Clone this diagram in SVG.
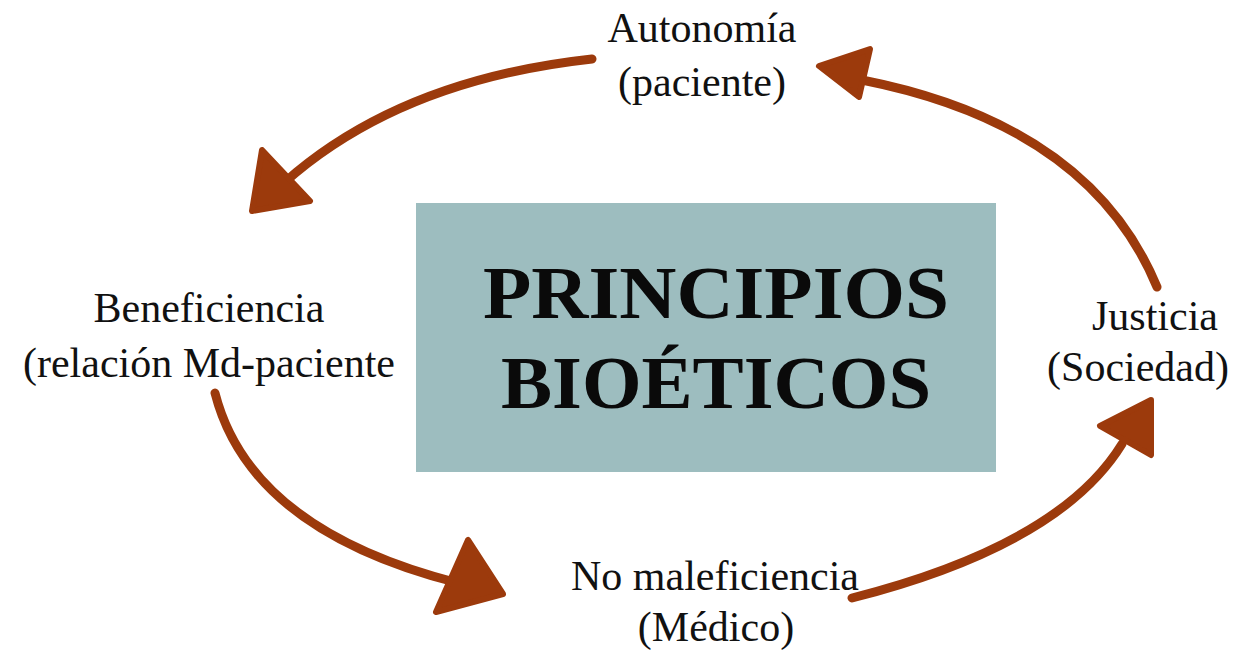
<svg xmlns="http://www.w3.org/2000/svg" width="1256" height="655" viewBox="0 0 1256 655">
<style>
.lbl{font-family:"Liberation Serif","DejaVu Serif",serif;font-size:42px;fill:#111;text-anchor:middle}
.title{font-family:"Liberation Serif","DejaVu Serif",serif;font-size:73px;font-weight:bold;fill:#0a0a0a;text-anchor:middle}
.ln{fill:none;stroke:#9c3a0c;stroke-width:9;stroke-linecap:round}
.hd{fill:#9c3a0c;stroke:#9c3a0c;stroke-width:6;stroke-linejoin:round}
</style>
<rect width="1256" height="655" fill="#fff"/>
<g id="center">
<rect x="416" y="203" width="580" height="269" fill="#9dbdbf"/>
<text class="title" x="716" y="318" textLength="466" lengthAdjust="spacingAndGlyphs">PRINCIPIOS</text>
<text class="title" x="716" y="408" textLength="430" lengthAdjust="spacingAndGlyphs">BIOÉTICOS</text>
</g>
<g id="autonomia">
<text class="lbl" x="702" y="42">Autonomía</text>
<text class="lbl" x="702" y="96">(paciente)</text>
</g>
<g id="beneficiencia">
<text class="lbl" x="209" y="322">Beneficiencia</text>
<text class="lbl" x="209" y="377">(relación Md-paciente</text>
</g>
<g id="justicia">
<text class="lbl" x="1155" y="330">Justicia</text>
<text class="lbl" x="1138" y="381">(Sociedad)</text>
</g>
<g id="nomaleficiencia">
<text class="lbl" x="715" y="590">No maleficiencia</text>
<text class="lbl" x="716" y="641">(Médico)</text>
</g>
<g id="connectors">
<path class="ln" d="M592,59 Q400,80 285,182"/>
<polygon class="hd" points="252,211 262,150 310,201"/>
<path class="ln" d="M1157,287 Q1090,125 862,80"/>
<polygon class="hd" points="819,66 870,49 859,97"/>
<path class="ln" d="M215,393 Q250,530 458,583"/>
<polygon class="hd" points="503,594 468,540 436,612"/>
<path class="ln" d="M852,598 Q1060,545 1122,444"/>
<polygon class="hd" points="1151,400 1100,426 1151,455"/>
</g>
</svg>
